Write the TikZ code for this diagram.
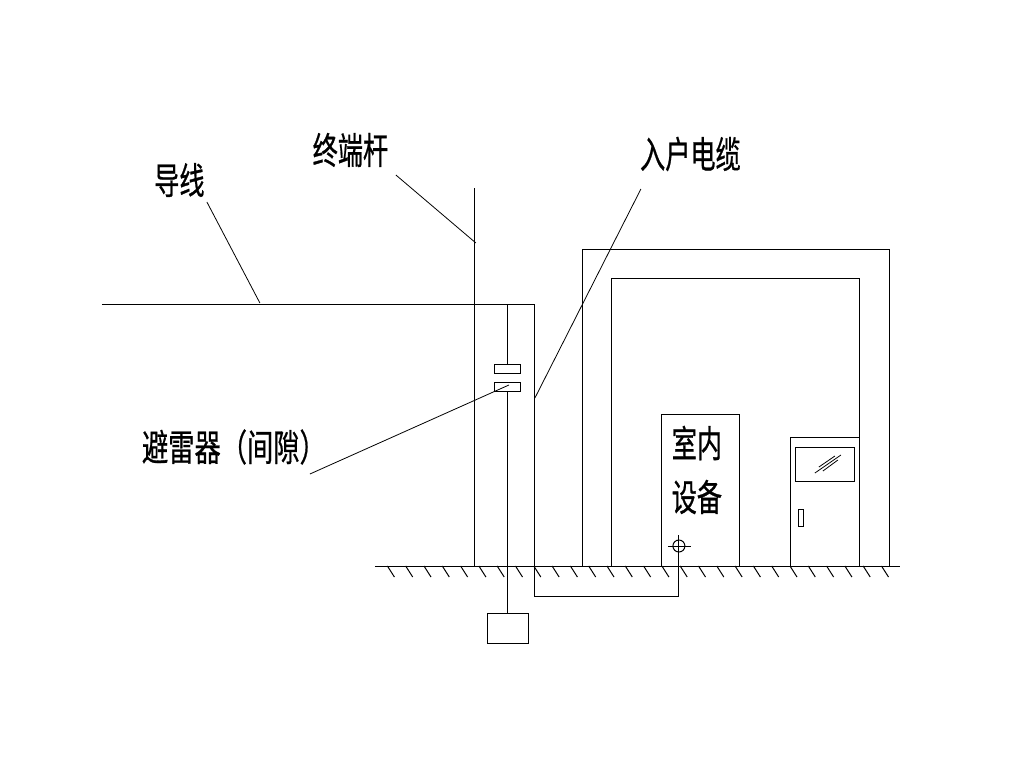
\documentclass[tikz,border=0pt]{standalone}
\usepackage{fontspec}
\newfontfamily\cjk[FakeBold=0.8]{Noto Sans CJK SC}
\tikzset{
	wire/.style = {line width = 0.5pt, black},
	leader/.style = {line width = 0.4pt, black},
	lbl/.style = {font = \cjk\fontsize{18.5}{20}\selectfont, xscale = 0.68, inner sep = 0},
	gap/.style = {draw, wire, inner sep = 0, minimum width = 13pt, minimum height = 4.5pt},
	earth/.style = {draw, wire, inner sep = 0, minimum width = 20.5pt, minimum height = 15pt}
}

\begin{document}
\begin{tikzpicture}[x = 0.5pt, y = -0.5pt]
\useasboundingbox (0.1, 0) rectangle (1023.1, 768);

\node[lbl] (wirelabel) at (179.5, 180) {导线};
\node[lbl] (polelabel) at (350.5, 150) {终端杆};
\node[lbl] (cablelabel) at (690.5, 154) {入户电缆};
\node[lbl, xscale = 1.044] (arresterlabel) at (234, 447) {避雷器（间隙）};
\node[lbl] (roomlabel) at (697, 443) {室内};
\node[lbl] (devicelabel) at (697, 497) {设备};

\node[gap] (gaptop) at (508, 368.5) {};
\node[gap] (gapbot) at (508, 386.5) {};
\node[earth] (earthbox) at (508, 628.5) {};

\coordinate (wiretap) at (508, 304);
\coordinate (wirehit) at (260, 303);
\coordinate (polehit) at (476, 243);
\coordinate (cablehit) at (535, 398);
\coordinate (gaphit) at (509, 385);
\coordinate (groundpt) at (679, 566);

% ground
\draw[wire] (375, 566) -- (900, 566);
\foreach \i in {0, ..., 27}
	\draw[wire] ({387.5 + 18.3*\i}, 566) -- ++(7, 11);

% pole and line
\draw[wire] (475, 188) -- (475, 566);
\draw[wire] (102, 304) -- (535, 304) -- (535, 596) -- (679, 596) -- (groundpt);
\draw[wire] (wiretap) -- (gaptop.north);
\draw[wire] (gapbot.south) -- (earthbox.north);

% leaders
\draw[leader] (207, 202) -- (wirehit);
\draw[leader] (396, 175) -- (polehit);
\draw[leader] (641, 189) -- (cablehit);
\draw[leader] (310, 474) -- (gaphit);

% house
\draw[wire] (583, 566) -- (583, 249) -- (890, 249) -- (890, 566);
\draw[wire] (612, 566) -- (612, 278) -- (860, 278) -- (860, 566);
\draw[wire] (662, 566) -- (662, 414) -- (740, 414) -- (740, 566);

% door
\draw[wire] (791, 566) -- (791, 437) -- (860, 437);
\draw[wire] (796, 447) rectangle (855, 481);
\draw[wire] (798.5, 509.5) rectangle (803.5, 526.5);
\draw[leader] (815, 473) -- (841, 455);
\draw[leader] (819, 467) -- (835, 456);
\draw[leader] (823, 471) -- (838, 460);

% socket
\draw[wire] (679, 546) circle (6);
\draw[wire] (668, 546) -- (691, 546);
\draw[wire] (679, 535) -- (groundpt);
\end{tikzpicture}
\end{document}
